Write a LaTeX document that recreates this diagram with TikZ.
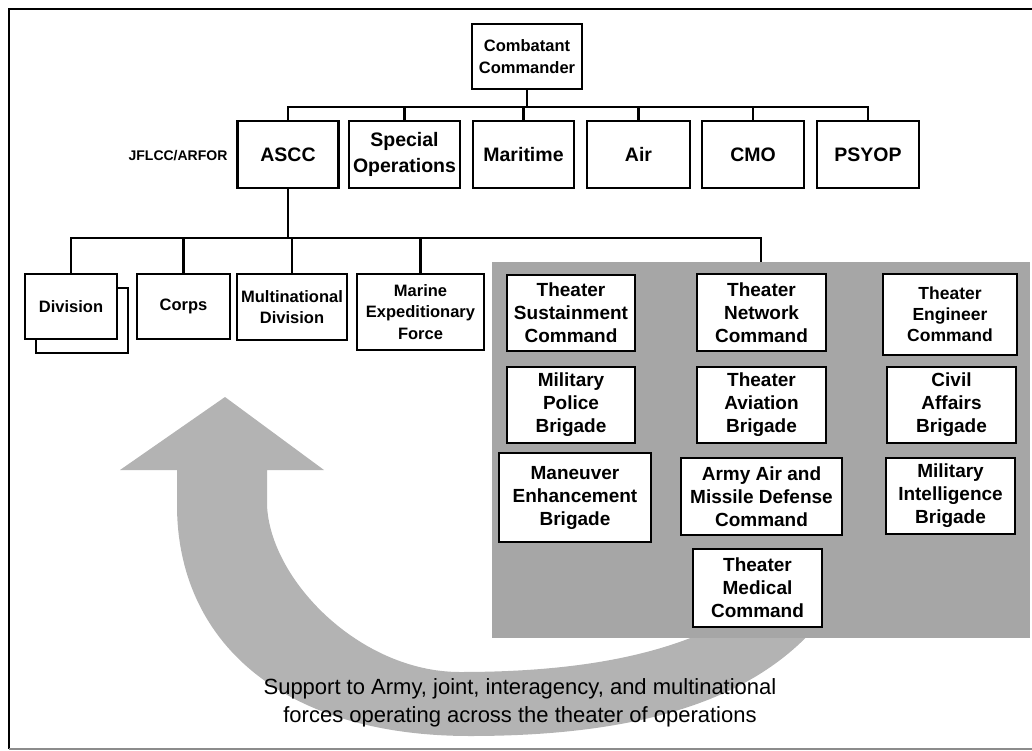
\documentclass[tikz,border=0pt]{standalone}
\usepackage{fontspec}
\setmainfont{Liberation Sans}
\definecolor{panelgray}{HTML}{A6A6A6}
\definecolor{arrowgray}{HTML}{B3B3B3}
\begin{document}
\begin{tikzpicture}[x=1pt,y=-1pt,
  unit/.style={draw, line width=2.8pt, fill=white, align=center, inner sep=0pt},
  toprow/.style={unit, font=\bfseries\fontsize{19.5}{25.5}\selectfont},
  subrow/.style={unit, font=\bfseries\fontsize{16.5}{21.5}\selectfont},
  support/.style={unit, font=\bfseries\fontsize{19}{23}\selectfont},
  link/.style={line width=2.4pt},
  panel/.style={fill=panelgray, inner sep=0pt}]
\useasboundingbox (0,0) rectangle (1032,751);

% outer frame
\draw[line width=2.6pt] (1040,9) -- (9,9) -- (9,749);
\draw[line width=1.6pt, black!45] (9,749) -- (1040,749);

% large curved support arrow
\fill[arrowgray]
  (225,397) -- (324,470) -- (267,470) -- (267,505)
  .. controls (270,580) and (360,672) .. (460,672)
  .. controls (560,672) and (650,660) .. (720,625)
  -- (820,622)
  .. controls (755,700) and (640,736) .. (470,736)
  .. controls (280,736) and (177,640) .. (177,505)
  -- (177,470) -- (120,470) -- cycle;

% grey block of theater-level supporting units
\node[panel, minimum width=538, minimum height=376] (panel) at (761,450) {};

% combatant commander and its components
\node[subrow, minimum width=110, minimum height=65] (cc) at (527,56.5) {Combatant\\Commander};
\node[toprow, minimum width=101, minimum height=67] (ascc) at (288,154.5) {ASCC};
\node[toprow, minimum width=111, minimum height=67] (sof) at (404.5,154.5) {Special\\Operations};
\node[toprow, minimum width=101, minimum height=67] (mar) at (523.5,154.5) {Maritime};
\node[toprow, minimum width=103, minimum height=67] (air) at (638.5,154.5) {Air};
\node[toprow, minimum width=102, minimum height=67] (cmo) at (753,154.5) {CMO};
\node[toprow, minimum width=102, minimum height=67] (psy) at (868,154.5) {PSYOP};
\node[font=\bfseries\fontsize{14}{16}\selectfont, inner sep=0pt] (jfl) at (178,156) {JFLCC/ARFOR};

% ASCC subordinate forces
\node[subrow, minimum width=92, minimum height=65] (divback) at (82,320.5) {};
\node[subrow, minimum width=92, minimum height=65] (div) at (71,306.5) {Division};
\node[subrow, minimum width=93, minimum height=65] (corps) at (183.5,306.5) {Corps};
\node[subrow, minimum width=110, minimum height=66] (mnd) at (292,307) {Multinational\\Division};
\node[subrow, minimum width=127, minimum height=76] (mef) at (420.5,312) {Marine\\Expeditionary\\Force};

% theater-level commands and brigades
\node[support, minimum width=128, minimum height=76] (tsc) at (571,313) {Theater\\Sustainment\\Command};
\node[support, minimum width=128, minimum height=76] (mpb) at (571,405) {Military\\Police\\Brigade};
\node[support, minimum width=152, minimum height=89] (meb) at (575,497.5) {Maneuver\\Enhancement\\Brigade};
\node[support, minimum width=129, minimum height=77] (tnc) at (761.5,312.5) {Theater\\Network\\Command};
\node[support, minimum width=129, minimum height=76] (tab) at (761.5,405) {Theater\\Aviation\\Brigade};
\node[support, minimum width=161, minimum height=77] (aamdc) at (761.5,496.5) {Army Air and\\Missile Defense\\Command};
\node[support, minimum width=129, minimum height=78] (tmc) at (757.5,588) {Theater\\Medical\\Command};
\node[unit, font=\bfseries\fontsize{17.5}{21}\selectfont, minimum width=134, minimum height=81] (tec) at (950,314.5) {Theater\\Engineer\\Command};
\node[support, minimum width=129, minimum height=76] (cab) at (951.5,405) {Civil\\Affairs\\Brigade};
\node[support, minimum width=129, minimum height=76] (mib) at (950.5,496) {Military\\Intelligence\\Brigade};

% connector buses
\coordinate (busA) at (0,107);
\coordinate (busB) at (0,238);
\draw[link] (cc.south) -- (cc.south |- busA);
\draw[link] (ascc.north) -- (ascc.north |- busA) -- (psy.north |- busA) -- (psy.north);
\foreach \n in {sof,mar,air,cmo} \draw[link] (\n.north) -- (\n.north |- busA);
\draw[link] (ascc.south) -- (ascc.south |- busB);
\draw[link] (div.north) -- (div.north |- busB) -- (panel.north |- busB) -- (panel.north);
\foreach \n in {corps,mnd,mef} \draw[link] (\n.north) -- (\n.north |- busB);

% caption across the arrow
\node[font=\fontsize{22}{28}\selectfont, align=center, inner sep=0pt] (caption) at (520,703)
  {Support to Army, joint, interagency, and multinational\\forces operating across the theater of operations};
\end{tikzpicture}
\end{document}
